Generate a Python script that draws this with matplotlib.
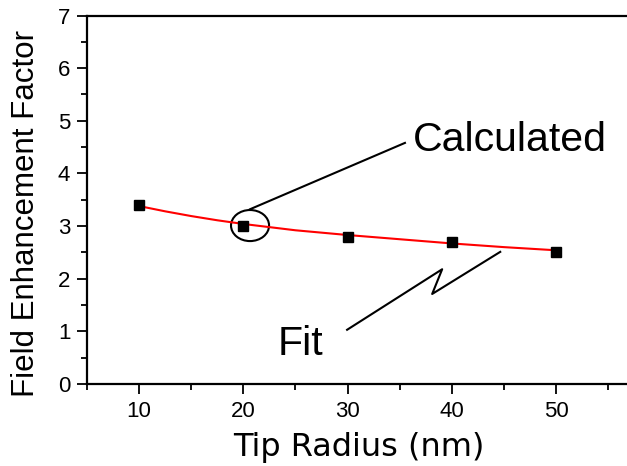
import matplotlib
matplotlib.use("Agg")
import matplotlib.pyplot as plt
from matplotlib.patches import Ellipse

plt.rcParams['font.family'] = ['Liberation Sans', 'DejaVu Sans']

# calculated points
radius = [10, 20, 30, 40, 50]
factor = [3.4, 3.0, 2.8, 2.7, 2.5]

# fit curve
fit_x = [10, 12.5, 15, 17.5, 20, 25, 30, 35, 40, 45, 50]
fit_y = [3.38, 3.28, 3.19, 3.11, 3.04, 2.92, 2.83, 2.75, 2.67, 2.60, 2.54]

x_ticks = [10, 20, 30, 40, 50]
y_ticks = [0, 1, 2, 3, 4, 5, 6, 7]

fig = plt.figure(figsize=(6.27, 4.66), dpi=100)
ax = fig.add_axes([87/627, 82/466, 540/627, 368.5/466])

ax.plot(fit_x, fit_y, color='red', lw=1.5, zorder=2)
ax.plot(radius, factor, 's', color='black', ms=6.5, zorder=3)

ax.set_xlim(5, 56.8)
ax.set_ylim(0, 7)
ax.set_xticks(x_ticks)
ax.set_xticks([5, 15, 25, 35, 45, 55], minor=True)
ax.set_yticks(y_ticks)
ax.set_yticks([0.5, 1.5, 2.5, 3.5, 4.5, 5.5, 6.5], minor=True)
ax.tick_params(which='major', direction='out', length=7, width=1.3, labelsize=16, pad=5)
ax.tick_params(which='minor', direction='out', length=4, width=1.3)
ax.spines['right'].set_visible(False)
for s in ['left', 'bottom', 'top']:
    ax.spines[s].set_linewidth(1.6)

ax.set_xlabel('Tip Radius (nm)', fontsize=23, family='DejaVu Sans', va='baseline')
ax.xaxis.set_label_coords(0.503, -0.195)
ax.set_ylabel('Field Enhancement Factor', fontsize=22.5, va='center')
ax.yaxis.set_label_coords(-0.113, 0.463)

# annotations
ax.text(36.3, 4.43, 'Calculated', fontsize=29.5, ha='left', va='baseline')
ax.plot([35.5, 20.64], [4.58, 3.32], color='black', lw=1.5)
ax.add_patch(Ellipse((20.64, 3.01), 3.65, 0.59, fill=False, ec='black', lw=1.5))

ax.text(23.33, 0.55, 'Fit', fontsize=29.5, ha='left', va='baseline')
ax.plot([29.95, 39.07, 38.11, 44.64], [1.03, 2.18, 1.71, 2.51], color='black', lw=1.5)

fig.savefig('out.png', dpi=100)
